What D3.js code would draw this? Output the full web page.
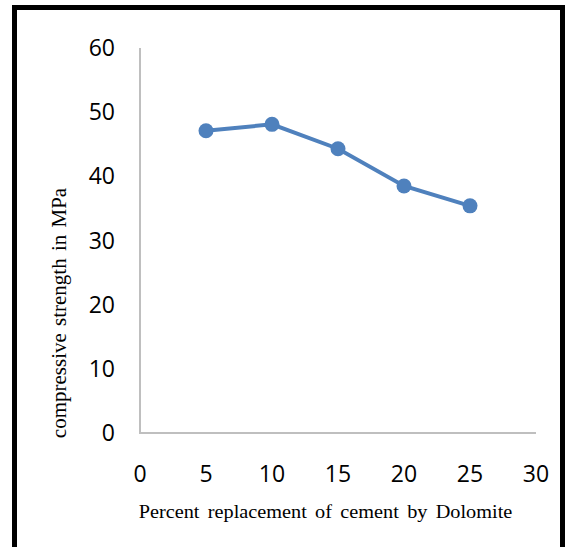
<!DOCTYPE html>
<html><head><meta charset="utf-8">
<script src="https://cdn.jsdelivr.net/npm/d3@7"></script>
<style>body{margin:0;background:#fff}svg{display:block}</style>
</head><body>
<script>
const xValues = [5, 10, 15, 20, 25];
const strength = [47.1, 48.1, 44.3, 38.5, 35.4];
const xTicks = [0, 5, 10, 15, 20, 25, 30];
const yTicks = [0, 10, 20, 30, 40, 50, 60];
const xTitle = "Percent replacement of cement by Dolomite";
const yTitle = "compressive strength in MPa";

const W = 565, H = 547;
const svg = d3.select("body").append("svg").attr("width", W).attr("height", H);

// outer frame
svg.append("path").attr("d", "M14.5,560 V7.5 H562.5 V560")
  .attr("fill", "none").attr("stroke", "#000").attr("stroke-width", 5);

const x = d3.scaleLinear().domain([0, 30]).range([140, 536]);
const y = d3.scaleLinear().domain([0, 60]).range([433, 48]);

// axis lines
svg.append("line").attr("x1", x(0)).attr("x2", x(0)).attr("y1", y(60)).attr("y2", y(0))
  .attr("stroke", "#bfbfbf").attr("stroke-width", 2);
svg.append("line").attr("x1", x(0) - 1).attr("x2", x(30)).attr("y1", y(0)).attr("y2", y(0))
  .attr("stroke", "#bfbfbf").attr("stroke-width", 2);

const font = "'Open Sans', 'Liberation Sans', Arial, sans-serif";
svg.selectAll(".yt").data(yTicks).enter().append("text")
  .attr("x", 115).attr("y", d => y(d)).attr("dy", "0.35em")
  .attr("text-anchor", "end").attr("font-family", font).attr("font-size", 23)
  .attr("fill", "#000").text(d => d);
svg.selectAll(".xt").data(xTicks).enter().append("text")
  .attr("x", d => x(d)).attr("y", 473.5).attr("dy", "0.35em")
  .attr("text-anchor", "middle").attr("font-family", font).attr("font-size", 23)
  .attr("fill", "#000").text(d => d);

const serif = "'Liberation Serif', 'Times New Roman', serif";
svg.append("text").attr("transform", "translate(325.5,518) scale(1.09,1)").attr("text-anchor", "middle")
  .attr("font-family", serif).attr("font-size", 18.6).attr("word-spacing", 3).text(xTitle);
svg.append("text").attr("transform", "translate(66,313) rotate(-90)").attr("text-anchor", "middle")
  .attr("font-family", serif).attr("font-size", 21).attr("word-spacing", 2).text(yTitle);

const data = xValues.map((v, i) => [v, strength[i]]);
svg.append("path").datum(data)
  .attr("d", d3.line().x(d => x(d[0])).y(d => y(d[1])))
  .attr("fill", "none").attr("stroke", "#4f81bd").attr("stroke-width", 4);
svg.selectAll(".pt").data(data).enter().append("circle")
  .attr("cx", d => x(d[0])).attr("cy", d => y(d[1])).attr("r", 7.5)
  .attr("fill", "#4f81bd");
</script>
</body></html>
